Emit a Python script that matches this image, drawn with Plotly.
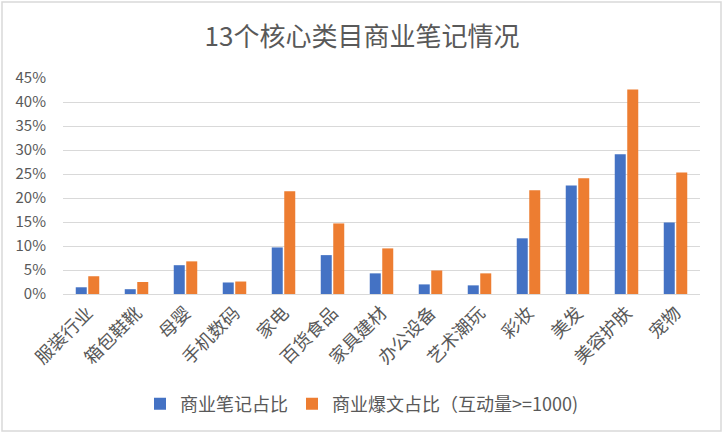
import plotly.graph_objects as go

categories = ['服装行业', '箱包鞋靴', '母婴', '手机数码', '家电', '百货食品', '家具建材',
              '办公设备', '艺术潮玩', '彩妆', '美发', '美容护肤', '宠物']
note_share = [0.014, 0.010, 0.060, 0.024, 0.097, 0.081, 0.043,
              0.020, 0.018, 0.116, 0.226, 0.291, 0.149]
hit_share = [0.037, 0.025, 0.068, 0.026, 0.214, 0.147, 0.095,
             0.049, 0.043, 0.216, 0.241, 0.426, 0.253]
y_ticks = [0, 0.05, 0.10, 0.15, 0.20, 0.25, 0.30, 0.35, 0.40, 0.45]

FONT = 'Noto Sans CJK SC'
GREY = '#595959'

fig = go.Figure()
fig.add_trace(go.Bar(x=categories, y=note_share, name='商业笔记占比',
                     marker=dict(color='#4472C4', line=dict(width=0)), legend='legend'))
fig.add_trace(go.Bar(x=categories, y=hit_share, name='商业爆文占比（互动量>=1000)',
                     marker=dict(color='#ED7D31', line=dict(width=0)), legend='legend2'))

leg_x = (140 - 63) / 637
leg_style = dict(orientation='h', xanchor='left', y=-0.51, yanchor='middle',
                 font=dict(size=18, color=GREY), itemwidth=30, bgcolor='rgba(0,0,0,0)')

fig.update_layout(
    width=724, height=434,
    margin=dict(l=63, r=24, t=78, b=140),
    paper_bgcolor='white', plot_bgcolor='white',
    font=dict(family=FONT, color=GREY),
    title=dict(text='13个核心类目商业笔记情况', x=0.5, xanchor='center',
               y=1 - 37 / 434, yanchor='middle',
               font=dict(size=26, color=GREY, family=FONT)),
    barmode='group', bargap=0.49, bargroupgap=0.12,
    legend=dict(x=leg_x, **leg_style),
    legend2=dict(x=leg_x + (315 - 163) / 637, **leg_style),
    showlegend=True,
)
fig.update_yaxes(range=[0, 0.45], tickvals=y_ticks, tickformat='.0%',
                 showgrid=True, gridcolor='#d9d9d9', gridwidth=1.3,
                 zeroline=True, zerolinecolor='#d9d9d9', zerolinewidth=1.3,
                 showline=False, ticks='', tickfont=dict(size=15, color=GREY),
                 ticklabelstandoff=16, automargin=False)
fig.update_xaxes(tickangle=-45, tickfont=dict(size=18, color=GREY),
                 showline=False, ticks='', showgrid=False, automargin=False,
                 ticklabelstandoff=4)

# chart border
fig.add_shape(type='rect', xref='paper', yref='paper',
              x0=(2 - 63) / 637, x1=(721 - 63) / 637,
              y0=(294 - 431) / 216, y1=(294 - 2) / 216,
              line=dict(color='#d9d9d9', width=1.5), fillcolor='rgba(0,0,0,0)', layer='below')

# drop the browser's default body margin so the figure sits at the window origin
fig.write_html('out.html', config={'displayModeBar': False},
               post_script="document.body.style.margin='0';")
